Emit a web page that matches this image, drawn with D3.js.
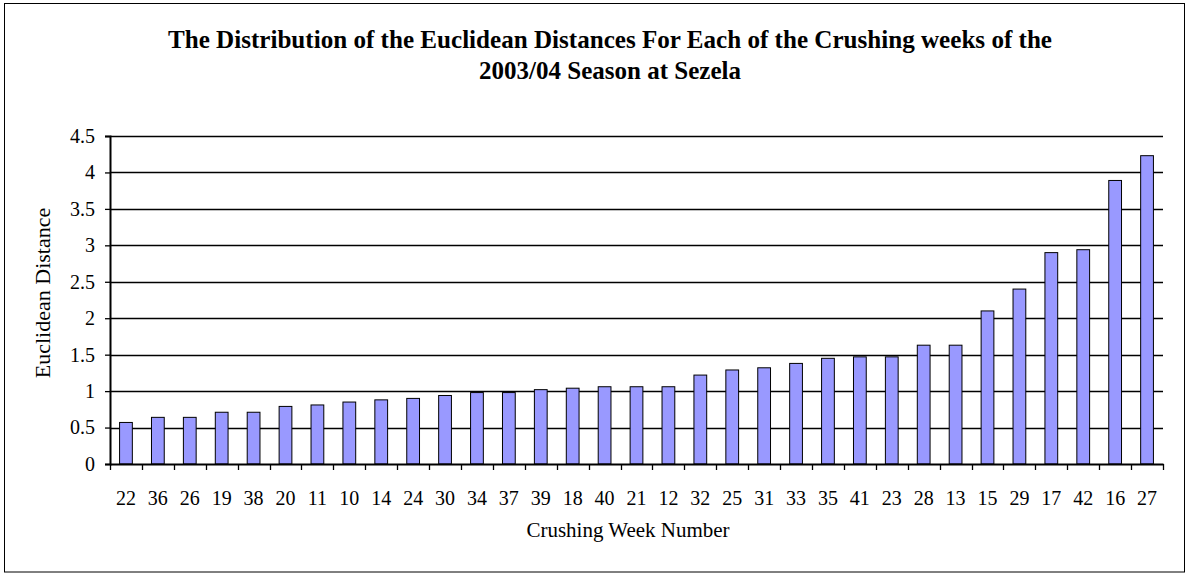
<!DOCTYPE html>
<html>
<head>
<meta charset="utf-8">
<script src="https://cdn.jsdelivr.net/npm/d3@7"></script>
<style>
  body { margin: 0; background: #fff; }
  text { font-family: "Liberation Serif", "Times New Roman", serif; fill: #000; }
</style>
</head>
<body>
<div id="chart"></div>
<script>
const weeks = ['22', '36', '26', '19', '38', '20', '11', '10', '14', '24', '30', '34', '37', '39', '18', '40', '21',
  '12', '32', '25', '31', '33', '35', '41', '23', '28', '13', '15', '29', '17', '42', '16', '27']
const distances = [0.57, 0.64, 0.64, 0.71, 0.71, 0.79, 0.81, 0.85, 0.88, 0.90, 0.94, 0.98, 0.98, 1.02, 1.04, 1.06, 1.06,
  1.06, 1.22, 1.29, 1.32, 1.38, 1.45, 1.47, 1.47, 1.63, 1.63, 2.10, 2.40, 2.90, 2.94, 3.89, 4.23]
const yTicks = [0, 0.5, 1, 1.5, 2, 2.5, 3, 3.5, 4, 4.5]
const titleLines = ['The Distribution of the Euclidean Distances For Each of the Crushing weeks of the',
  '2003/04 Season at Sezela']
const titleWidths = [884, 262]

const width = 1187
const height = 574
const margin = { top: 136, right: 24, bottom: 110, left: 110 }
const pw = width - margin.left - margin.right
const ph = height - margin.top - margin.bottom

const svg = d3.select('#chart').append('svg')
  .attr('width', width)
  .attr('height', height)

// outer frame
svg.append('rect')
  .attr('x', 4.5).attr('y', 3.5)
  .attr('width', 1180).attr('height', 568.5)
  .attr('fill', 'none').attr('stroke', '#000').attr('stroke-width', 1)

const x = d3.scaleBand().domain(weeks).range([0, pw]).padding(0)
const y = d3.scaleLinear().domain([0, 4.5]).range([ph, 0])

const g = svg.append('g').attr('transform', `translate(${margin.left},${margin.top})`)

// gridlines
g.append('g')
  .selectAll('line')
  .data(yTicks.filter(d => d > 0))
  .enter().append('line')
  .attr('x1', 0).attr('x2', pw)
  .attr('y1', d => Math.round(y(d)) + 0.5).attr('y2', d => Math.round(y(d)) + 0.5)
  .attr('stroke', '#000').attr('stroke-width', 1.3)

// bars
const bw = x.bandwidth() * 0.4
g.append('g')
  .selectAll('rect')
  .data(distances).enter()
  .append('rect')
  .attr('x', (d, i) => x(weeks[i]) + (x.bandwidth() - bw) / 2)
  .attr('y', d => y(d))
  .attr('width', bw)
  .attr('height', d => ph - y(d))
  .attr('fill', '#9999ff')
  .attr('stroke', '#000')
  .attr('stroke-width', 1)

// y axis
const yAxis = g.append('g')
  .call(d3.axisLeft(y).tickValues(yTicks).tickSize(5).tickPadding(10).tickFormat(d => String(d)))
yAxis.select('.domain').attr('stroke-width', 2)
yAxis.selectAll('.tick line').attr('stroke-width', 1.3)
yAxis.selectAll('text').attr('font-size', 20).attr('font-family', 'Liberation Serif')

// x axis: labels centred, ticks at band boundaries
const xAxis = g.append('g')
  .attr('transform', `translate(0,${ph})`)
  .call(d3.axisBottom(x).tickSize(0).tickPadding(27))
xAxis.select('.domain').attr('stroke-width', 2)
xAxis.selectAll('text').attr('font-size', 20).attr('font-family', 'Liberation Serif')
g.append('g')
  .attr('transform', `translate(0,${ph})`)
  .selectAll('line')
  .data(weeks.map(w => x(w)).concat([pw]))
  .enter().append('line')
  .attr('x1', d => Math.round(d) + 0.5).attr('x2', d => Math.round(d) + 0.5)
  .attr('y1', 0).attr('y2', 6)
  .attr('stroke', '#000').attr('stroke-width', 1.3)

// axis titles
svg.append('text')
  .attr('x', 628)
  .attr('y', 537)
  .attr('text-anchor', 'middle')
  .attr('font-size', 21)
  .text('Crushing Week Number')

svg.append('text')
  .attr('transform', `translate(50,293) rotate(-90)`)
  .attr('text-anchor', 'middle')
  .attr('font-size', 22)
  .text('Euclidean Distance')

// title
svg.append('g')
  .selectAll('text')
  .data(titleLines).enter()
  .append('text')
  .attr('x', 610)
  .attr('y', (d, i) => 48 + i * 31)
  .attr('text-anchor', 'middle')
  .attr('font-size', 25)
  .attr('font-weight', 'bold')
  .attr('textLength', (d, i) => titleWidths[i])
  .attr('lengthAdjust', 'spacingAndGlyphs')
  .text(d => d)
</script>
</body>
</html>
